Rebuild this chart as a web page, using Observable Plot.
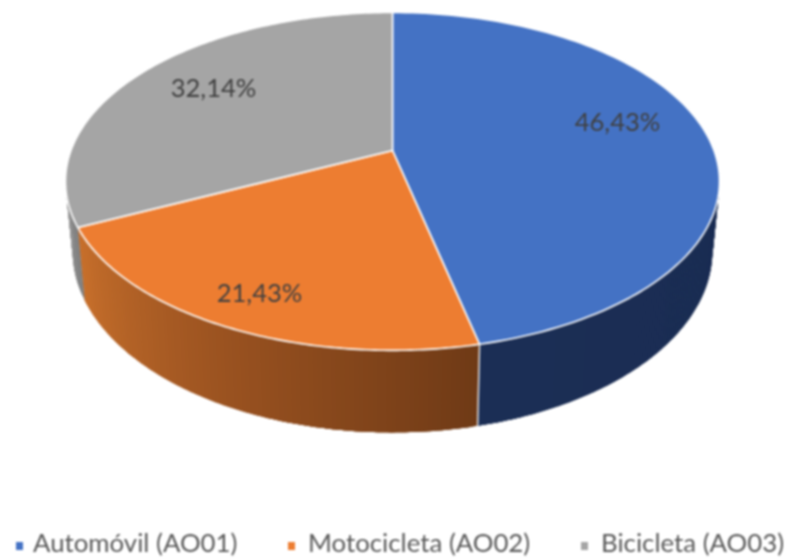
<!DOCTYPE html>
<html lang="es">
<head>
<meta charset="utf-8">
<script src="https://cdn.jsdelivr.net/npm/d3@7"></script>
<script src="https://cdn.jsdelivr.net/npm/@observablehq/plot@0.6"></script>
<style>
html,body{margin:0;padding:0;background:#fff;width:786px;height:558px;overflow:hidden}
#chart svg{display:block;filter:blur(.8px)}
#legend{position:relative;height:33px;font-family:"Lato",sans-serif;font-size:25.8px;color:#595959;filter:blur(.8px)}
#legend span{position:absolute;white-space:nowrap;line-height:28px;top:3px}
#legend i{position:absolute;width:7px;height:8px;top:17px}
</style>
</head>
<body>
<div id="chart"></div>
<div id="legend"></div>
<script>
// Data
const categories = ["Automóvil (AO01)", "Motocicleta (AO02)", "Bicicleta (AO03)"];
const shares = [46.43, 21.43, 32.14];
const shareLabels = ["46,43%", "21,43%", "32,14%"];

// Styles and layout
const topColors = ["#4472c4", "#ed7d31", "#a5a5a5"];
const sideStops = [
  ["#1a2c52", "#1b2e55"],
  ["#6f3a16", "#9a5220", "#c8702c"],
  ["#7f7f7f", "#9a9a9a"]
];
const labelX = [617, 259, 213];
const labelY = [122, 293, 88];
const legendSwatchX = [16, 288, 581];
const legendTextX = [33, 308, 601];

// Perspective of the tilted disc
const cx = 392, cy = 150, A = 321.5, B = 163.3, k = 0.183, depth = 67, shrink = 0.978;
function rim(theta, lower) {
  const u = Math.sin(theta), v = Math.cos(theta), w = 1 + k * v;
  return lower
    ? {x: cx + shrink * A * u / w, y: cy - B * v / w + depth / w}
    : {x: cx + A * u / w, y: cy - B * v / w};
}

const total = d3.sum(shares);
let acc = 0;
const slices = shares.map((s, i) => {
  const a0 = acc / total * 2 * Math.PI;
  acc += s;
  return {i, a0, a1: acc / total * 2 * Math.PI};
});

// Top face of each slice
const topRows = slices.flatMap(({i, a0, a1}) => {
  const angles = d3.range(0, 121).map(n => a0 + (a1 - a0) * n / 120);
  return [{id: i, x: cx, y: cy, color: topColors[i]}]
    .concat(angles.map(t => ({id: i, ...rim(t, false), color: topColors[i]})));
});

// Visible wall: overlapping strips painted in order, so no seams show between them
const visibleFrom = 95 * Math.PI / 180, visibleTo = 262 * Math.PI / 180;
const sideRows = slices.flatMap(({i, a0, a1}) => {
  const from = Math.max(a0, visibleFrom), to = Math.min(a1, visibleTo);
  if (to <= from) return [];
  const step = 0.012, n = Math.ceil((to - from) / step);
  const dt = (to - from) / n;
  const ramp = d3.scaleLinear()
    .domain(d3.quantize(d3.interpolate(from, to), sideStops[i].length))
    .range(sideStops[i]);
  return d3.range(n).flatMap(j => {
    const t0 = from + dt * j;
    const ts = d3.range(0, 5).map(m => Math.min(to, t0 + dt * m));
    const id = `${i}-${j}`, color = ramp(t0 + dt / 2);
    return ts.map(t => rim(t, false)).concat(ts.slice().reverse().map(t => rim(t, true)))
      .map(p => ({id, ...p, color}));
  });
});

// White seam between the blue and orange walls
const seamRows = [rim(slices[0].a1, false), rim(slices[0].a1, true)];

const labels = shareLabels.map((text, i) => ({text, x: labelX[i], y: labelY[i]}));

const plot = Plot.plot({
  width: 786, height: 525,
  margin: 0,
  x: {domain: [0, 786], range: [0, 786], axis: null},
  y: {domain: [0, 525], range: [0, 525], axis: null},
  color: {type: "identity"},
  marks: [
    Plot.line(sideRows, {x: "x", y: "y", z: "id", fill: "color", stroke: "none", curve: "linear-closed"}),
    Plot.line(seamRows, {x: "x", y: "y", stroke: "#e8e8e8", strokeWidth: 1.5}),
    Plot.line(topRows, {x: "x", y: "y", z: "id", fill: "color", stroke: "#ffffff", strokeWidth: 1.6, curve: "linear-closed"}),
    Plot.text(labels, {x: "x", y: "y", text: "text", fill: "#404040", fontSize: 25.6, fontFamily: "Lato, sans-serif"})
  ]
});
document.getElementById("chart").append(plot);

const legend = document.getElementById("legend");
categories.forEach((c, i) => {
  const sw = document.createElement("i");
  sw.style.left = legendSwatchX[i] + "px";
  sw.style.background = topColors[i];
  const tx = document.createElement("span");
  tx.style.left = legendTextX[i] + "px";
  tx.textContent = c;
  legend.append(sw, tx);
});
</script>
</body>
</html>
